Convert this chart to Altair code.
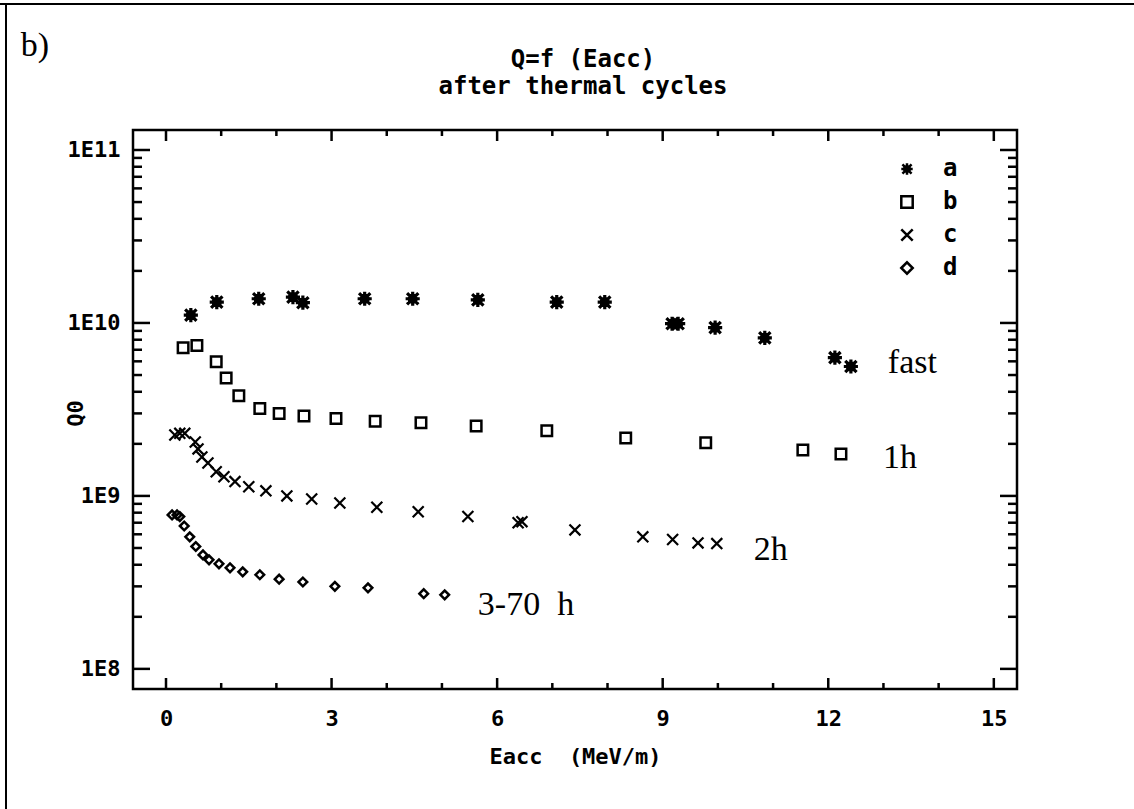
import altair as alt
import pandas as pd

# ---------------- data ----------------
series_names = ["a", "b", "c", "d"]

a_eacc = [0.45, 0.92, 1.68, 2.30, 2.48, 3.60, 4.47, 5.65, 7.08, 7.95, 9.17, 9.28, 9.95, 10.85, 12.12, 12.41]
a_q0 = [1.11e10, 1.32e10, 1.38e10, 1.41e10, 1.31e10, 1.38e10, 1.38e10, 1.36e10, 1.32e10, 1.32e10,
        9.9e9, 9.9e9, 9.4e9, 8.2e9, 6.3e9, 5.6e9]

b_eacc = [0.31, 0.56, 0.91, 1.09, 1.32, 1.70, 2.05, 2.50, 3.08, 3.79, 4.62, 5.62, 6.90, 8.33, 9.78, 11.54, 12.23]
b_q0 = [7.2e9, 7.4e9, 5.96e9, 4.8e9, 3.8e9, 3.2e9, 3.0e9, 2.9e9, 2.8e9, 2.7e9, 2.65e9, 2.54e9,
        2.38e9, 2.16e9, 2.03e9, 1.84e9, 1.75e9]

c_eacc = [0.16, 0.25, 0.34, 0.53, 0.58, 0.65, 0.76, 0.91, 1.05, 1.25, 1.50, 1.81, 2.19, 2.64, 3.15,
          3.82, 4.57, 5.47, 6.38, 6.45, 7.41, 8.64, 9.18, 9.64, 9.98]
c_q0 = [2.25e9, 2.3e9, 2.3e9, 2.05e9, 1.87e9, 1.68e9, 1.55e9, 1.38e9, 1.29e9, 1.21e9, 1.13e9, 1.07e9,
        1.0e9, 9.6e8, 9.1e8, 8.6e8, 8.1e8, 7.6e8, 7.0e8, 7.1e8, 6.36e8, 5.8e8, 5.6e8, 5.35e8, 5.3e8]

d_eacc = [0.11, 0.20, 0.25, 0.33, 0.43, 0.54, 0.67, 0.78, 0.96, 1.16, 1.39, 1.70, 2.05, 2.48, 3.06,
          3.66, 4.67, 5.05]
d_q0 = [7.76e8, 7.76e8, 7.6e8, 6.7e8, 5.8e8, 5.1e8, 4.56e8, 4.27e8, 4.05e8, 3.84e8, 3.64e8, 3.5e8,
        3.3e8, 3.18e8, 3.0e8, 2.94e8, 2.72e8, 2.68e8]

# curve labels (anchor in data units: Eacc, Q0)
ann_text = ["fast", "1h", "2h", "3-70\u2002h"]
ann_eacc = [13.08, 12.99, 10.65, 5.65]
ann_q0 = [5.14e9, 1.45e9, 4.27e8, 2.05e8]

x_major = [0, 3, 6, 9, 12, 15]
x_minor = [1, 2, 4, 5, 7, 8, 10, 11, 13, 14]
y_major = [1e8, 1e9, 1e10, 1e11]
y_minor = [k * 10 ** n for n in (8, 9, 10) for k in range(2, 10)]

title_lines = ["Q=f (Eacc)", "after thermal cycles"]
panel_tag = "b)"
x_title = "Eacc\u00a0\u00a0(MeV/m)"
y_title = "Q0"

# ---------------- build ----------------
W, H = 884, 559
MONO = "DejaVu Sans Mono"
SERIF = "Liberation Serif"

xscale = alt.Scale(domain=[-0.598, 15.42], nice=False, zero=False)
yscale = alt.Scale(type="log", domain=[7.65e7, 1.305e11], nice=False)

STAR = "M-1,0L1,0M0,-1L0,1M-0.8,-0.8L0.8,0.8M-0.8,0.8L0.8,-0.8M-0.45,-0.45L0.45,-0.45L0.45,0.45L-0.45,0.45Z"
XMARK = "M-1,-1L1,1M-1,1L1,-1"
shape_scale = alt.Scale(domain=series_names, range=[STAR, "square", XMARK, "diamond"])

x_axis = alt.Axis(values=x_major, format="d", domain=False, ticks=False, grid=False,
                  labelFont=MONO, labelFontWeight="bold", labelFontSize=22, labelColor="black",
                  labelPadding=19, title=x_title, titleFont=MONO, titleFontWeight="bold",
                  titleFontSize=22, titleColor="black", titlePadding=17)
y_axis = alt.Axis(values=y_major, labelExpr="'1E' + round(log(datum.value) / LN10)",
                  domain=False, ticks=False, grid=False,
                  labelFont=MONO, labelFontWeight="bold", labelFontSize=22, labelColor="black",
                  labelPadding=13, title=y_title, titleFont=MONO, titleFontWeight="bold",
                  titleFontSize=22, titleColor="black", titleX=-58, titleY=283,
                  titleAlign="center", titleBaseline="middle", titleAngle=-90)
legend = alt.Legend(title=None, orient="none", legendX=762, legendY=27,
                    labelFont=MONO, labelFontWeight="bold", labelFontSize=24, labelColor="black",
                    symbolSize=130, symbolStrokeWidth=2.5, symbolStrokeColor="black",
                    labelOffset=24, rowPadding=9)

marker_size = {"a": 200, "b": 110, "c": 120, "d": 75}
marker_width = {"a": 3.2, "b": 2.5, "c": 2.2, "d": 2.5}

layers = []
for i, (s, xs, qs) in enumerate(zip(series_names, [a_eacc, b_eacc, c_eacc, d_eacc], [a_q0, b_q0, c_q0, d_q0])):
    d = pd.DataFrame({"series": s, "Eacc": xs, "Q0": qs})
    layers.append(
        alt.Chart(d).mark_point(filled=False, color="black", opacity=1,
                                size=marker_size[s], strokeWidth=marker_width[s]).encode(
            x=alt.X("Eacc:Q", scale=xscale, axis=x_axis if i == 0 else alt.Undefined),
            y=alt.Y("Q0:Q", scale=yscale, axis=y_axis if i == 0 else alt.Undefined),
            shape=alt.Shape("series:N", scale=shape_scale, legend=legend if i == 0 else alt.Undefined),
        )
    )

ann = alt.Chart(pd.DataFrame({"Eacc": ann_eacc, "Q0": ann_q0, "label": ann_text})).mark_text(
    align="left", baseline="alphabetic", font=SERIF, fontSize=34, color="black"
).encode(x=alt.X("Eacc:Q", scale=xscale), y=alt.Y("Q0:Q", scale=yscale), text="label:N")

def xticks(vals, length):
    d = pd.DataFrame({"Eacc": vals})
    bottom = alt.Chart(d).mark_rule(color="black", strokeWidth=2.5).encode(
        x=alt.X("Eacc:Q", scale=xscale), y=alt.value(H), y2=alt.value(H - length))
    top = alt.Chart(d).mark_rule(color="black", strokeWidth=2.5).encode(
        x=alt.X("Eacc:Q", scale=xscale), y=alt.value(0), y2=alt.value(length))
    return [bottom, top]

def yticks(vals, length):
    d = pd.DataFrame({"Q0": vals})
    left = alt.Chart(d).mark_rule(color="black", strokeWidth=2.5).encode(
        y=alt.Y("Q0:Q", scale=yscale), x=alt.value(0), x2=alt.value(length))
    right = alt.Chart(d).mark_rule(color="black", strokeWidth=2.5).encode(
        y=alt.Y("Q0:Q", scale=yscale), x=alt.value(W), x2=alt.value(W - length))
    return [left, right]

tick_layers = xticks(x_major, 11) + xticks(x_minor, 6) + yticks(y_major, 17) + yticks(y_minor, 9)

title1 = alt.Chart(pd.DataFrame({"t": [title_lines[0]]})).mark_text(
    font=MONO, fontSize=24, fontWeight="bold", color="black", align="center", baseline="middle"
).encode(text="t:N", x=alt.value(450), y=alt.value(-70))
title2 = alt.Chart(pd.DataFrame({"t": [title_lines[1]]})).mark_text(
    font=MONO, fontSize=24, fontWeight="bold", color="black", align="center", baseline="middle"
).encode(text="t:N", x=alt.value(450), y=alt.value(-43))
tag = alt.Chart(pd.DataFrame({"t": [panel_tag]})).mark_text(
    font=SERIF, fontSize=34, color="black", align="center", baseline="middle"
).encode(text="t:N", x=alt.value(-98), y=alt.value(-84))

border_top = alt.Chart(pd.DataFrame({"k": [0]})).mark_rule(color="black", strokeWidth=2).encode(
    x=alt.value(-133), x2=alt.value(1134 - 133), y=alt.value(-126))
border_left = alt.Chart(pd.DataFrame({"k": [0]})).mark_rule(color="black", strokeWidth=2).encode(
    x=alt.value(-127), y=alt.value(-126), y2=alt.value(809 - 130))

chart = alt.layer(*layers, ann, *tick_layers, title1, title2, tag, border_top, border_left).properties(
    width=W, height=H,
    autosize=alt.AutoSizeParams(type="none"),
    padding={"left": 133, "top": 130, "right": 1134 - 133 - W, "bottom": 809 - 130 - H},
    background="white",
).configure_view(stroke="black", strokeWidth=2.5)

chart.save("out.html", embed_options={"renderer": "svg", "actions": False})
